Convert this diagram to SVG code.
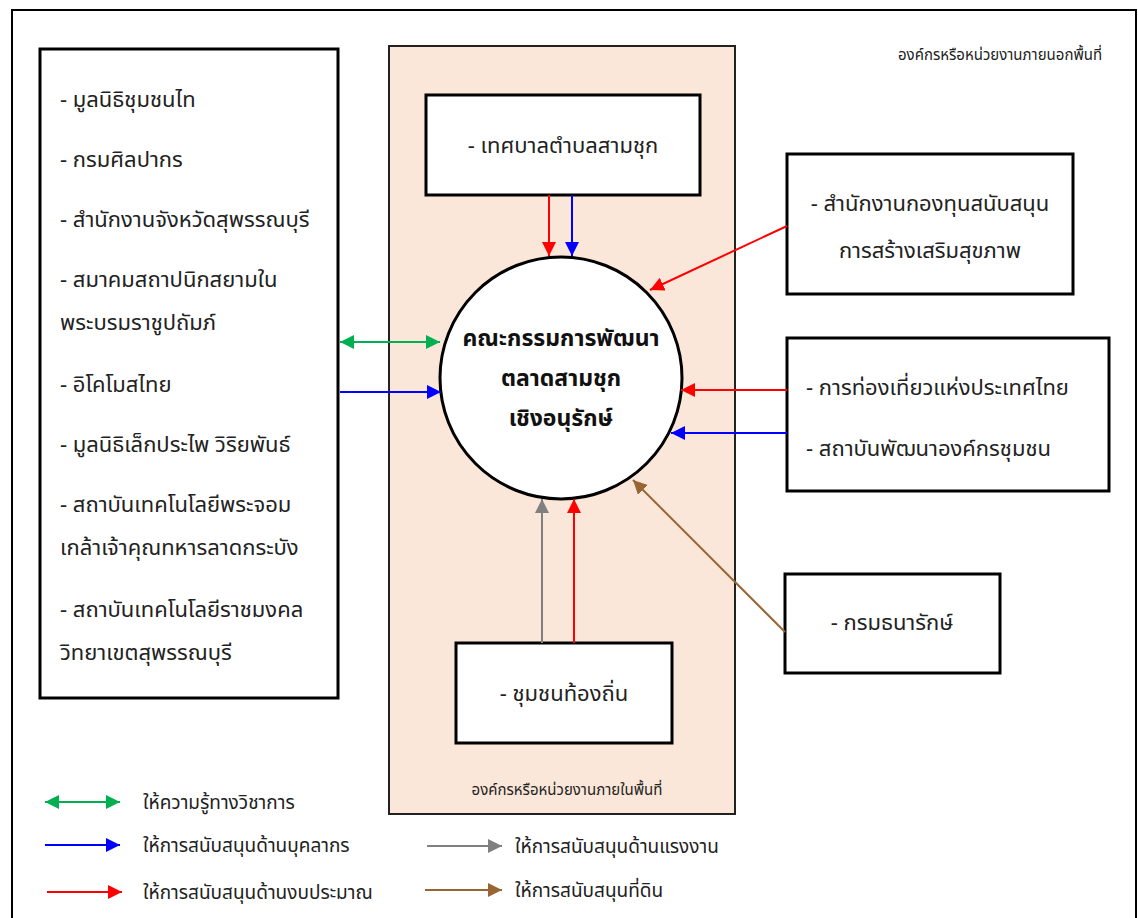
<svg xmlns="http://www.w3.org/2000/svg" width="1138" height="918" viewBox="0 0 1138 918">
<defs>
<style>
.box{fill:#fff;stroke:#000;stroke-width:3}
.t{font-family:"Noto Sans Thai","Loma","Garuda","Noto Sans",sans-serif;font-size:22px;fill:#222}
.c{text-anchor:middle}
.b{font-weight:bold;font-size:23px;fill:#111}
.lg{font-size:19px}
.sm{font-size:15px}
.ln{stroke-width:2;fill:none}
</style>
<marker id="mR" markerUnits="userSpaceOnUse" markerWidth="16" markerHeight="16" refX="14" refY="7" orient="auto"><path d="M0,0 L14,7 L0,14 z" fill="#ff0000"/></marker>
<marker id="mB" markerUnits="userSpaceOnUse" markerWidth="16" markerHeight="16" refX="14" refY="7" orient="auto"><path d="M0,0 L14,7 L0,14 z" fill="#0000ff"/></marker>
<marker id="mG" markerUnits="userSpaceOnUse" markerWidth="16" markerHeight="16" refX="14" refY="7" orient="auto-start-reverse"><path d="M0,0 L14,7 L0,14 z" fill="#00b050"/></marker>
<marker id="mY" markerUnits="userSpaceOnUse" markerWidth="16" markerHeight="16" refX="14" refY="7" orient="auto"><path d="M0,0 L14,7 L0,14 z" fill="#808080"/></marker>
<marker id="mN" markerUnits="userSpaceOnUse" markerWidth="16" markerHeight="16" refX="14" refY="7" orient="auto"><path d="M0,0 L14,7 L0,14 z" fill="#996633"/></marker>
</defs>
<rect x="0" y="0" width="1138" height="918" fill="#fff"/>
<rect x="12" y="10" width="1124" height="912" fill="none" stroke="#000" stroke-width="2"/>

<g id="inner-panel">
<rect x="389" y="46" width="346" height="768" fill="#fbe7d9" stroke="#222" stroke-width="2"/>
<text class="t sm c" x="567" y="795">องค์กรหรือหน่วยงานภายในพื้นที่</text>
</g>
<text id="outer-label" class="t sm" x="898" y="60">องค์กรหรือหน่วยงานภายนอกพื้นที่</text>

<g id="left-box">
<rect class="box" x="40" y="49" width="298" height="649"/>
<text class="t" x="60" y="107">- มูลนิธิชุมชนไท</text>
<text class="t" x="60" y="167">- กรมศิลปากร</text>
<text class="t" x="60" y="227">- สำนักงานจังหวัดสุพรรณบุรี</text>
<text class="t" x="60" y="287">- สมาคมสถาปนิกสยามใน</text>
<text class="t" x="60" y="330">พระบรมราชูปถัมภ์</text>
<text class="t" x="60" y="392">- อิโคโมสไทย</text>
<text class="t" x="60" y="452">- มูลนิธิเล็กประไพ วิริยพันธ์</text>
<text class="t" x="60" y="512">- สถาบันเทคโนโลยีพระจอม</text>
<text class="t" x="60" y="555">เกล้าเจ้าคุณทหารลาดกระบัง</text>
<text class="t" x="60" y="617">- สถาบันเทคโนโลยีราชมงคล</text>
<text class="t" x="60" y="660">วิทยาเขตสุพรรณบุรี</text>
</g>

<g id="top-box">
<rect class="box" x="426" y="95" width="274" height="100"/>
<text class="t c" x="563" y="153">- เทศบาลตำบลสามชุก</text>
</g>

<g id="center">
<circle cx="561" cy="378" r="121" fill="#fff" stroke="#000" stroke-width="3"/>
<text class="t b c" x="561" y="346">คณะกรรมการพัฒนา</text>
<text class="t b c" x="561" y="386">ตลาดสามชุก</text>
<text class="t b c" x="561" y="426">เชิงอนุรักษ์</text>
</g>

<g id="right-box-1">
<rect class="box" x="787" y="154" width="286" height="140"/>
<text class="t c" x="930" y="211">- สำนักงานกองทุนสนับสนุน</text>
<text class="t c" x="930" y="258">การสร้างเสริมสุขภาพ</text>
</g>

<g id="right-box-2">
<rect class="box" x="787" y="338" width="322" height="153"/>
<text class="t" x="806" y="395">- การท่องเที่ยวแห่งประเทศไทย</text>
<text class="t" x="806" y="456">- สถาบันพัฒนาองค์กรชุมชน</text>
</g>

<g id="right-box-3">
<rect class="box" x="785" y="574" width="215" height="99"/>
<text class="t c" x="892" y="630">- กรมธนารักษ์</text>
</g>

<g id="bottom-box">
<rect class="box" x="456" y="643" width="216" height="100"/>
<text class="t c" x="564" y="701">- ชุมชนท้องถิ่น</text>
</g>

<g id="connectors">
<line class="ln" x1="549" y1="195" x2="549" y2="256" stroke="#ff0000" marker-end="url(#mR)"/>
<line class="ln" x1="572" y1="195" x2="572" y2="256" stroke="#0000ff" marker-end="url(#mB)"/>
<line class="ln" x1="787" y1="226" x2="650" y2="290" stroke="#ff0000" marker-end="url(#mR)"/>
<line class="ln" x1="340" y1="342" x2="440" y2="342" stroke="#00b050" marker-start="url(#mG)" marker-end="url(#mG)"/>
<line class="ln" x1="340" y1="392" x2="441" y2="392" stroke="#0000ff" marker-end="url(#mB)"/>
<line class="ln" x1="787" y1="390" x2="681" y2="390" stroke="#ff0000" marker-end="url(#mR)"/>
<line class="ln" x1="787" y1="433" x2="671" y2="433" stroke="#0000ff" marker-end="url(#mB)"/>
<line class="ln" x1="542" y1="643" x2="542" y2="499" stroke="#808080" marker-end="url(#mY)"/>
<line class="ln" x1="574" y1="643" x2="574" y2="499" stroke="#ff0000" marker-end="url(#mR)"/>
<line class="ln" x1="785" y1="632" x2="633" y2="480" stroke="#996633" marker-end="url(#mN)"/>
</g>

<g id="legend">
<line class="ln" x1="45" y1="802" x2="120" y2="802" stroke="#00b050" marker-start="url(#mG)" marker-end="url(#mG)"/>
<text class="t lg" x="143" y="809">ให้ความรู้ทางวิชาการ</text>
<line class="ln" x1="45" y1="845" x2="120" y2="845" stroke="#0000ff" marker-end="url(#mB)"/>
<text class="t lg" x="143" y="852">ให้การสนับสนุนด้านบุคลากร</text>
<line class="ln" x1="47" y1="892" x2="122" y2="892" stroke="#ff0000" marker-end="url(#mR)"/>
<text class="t lg" x="143" y="899">ให้การสนับสนุนด้านงบประมาณ</text>
<line class="ln" x1="427" y1="846" x2="502" y2="846" stroke="#808080" marker-end="url(#mY)"/>
<text class="t lg" x="515" y="853">ให้การสนับสนุนด้านแรงงาน</text>
<line class="ln" x1="425" y1="890" x2="502" y2="890" stroke="#996633" marker-end="url(#mN)"/>
<text class="t lg" x="515" y="897">ให้การสนับสนุนที่ดิน</text>
</g>
</svg>
